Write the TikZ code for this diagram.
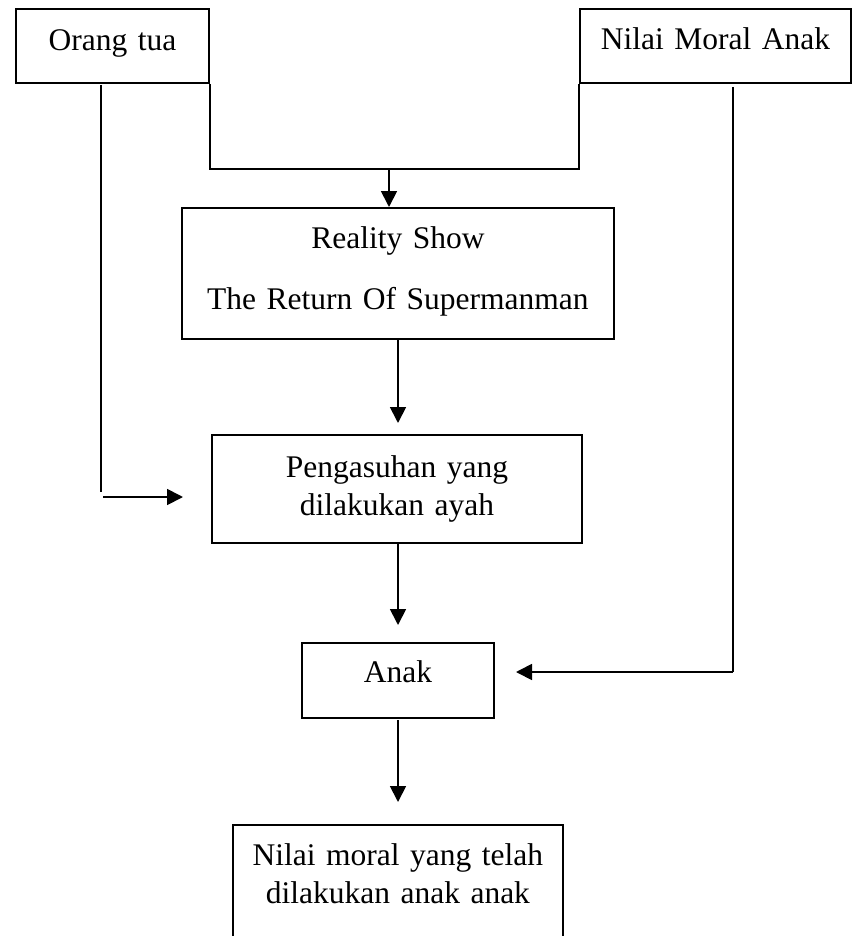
\documentclass[tikz,border=0pt]{standalone}
\usepackage{fontspec}
\setmainfont{Liberation Serif}
\usetikzlibrary{arrows.meta}
\tikzset{
  boxnode/.style={draw, line width=1.8pt, rectangle, inner sep=0pt, anchor=north west,
    align=center, font=\fontsize{31.5}{38}\selectfont},
  conn/.style={line width=1.8pt},
  arr/.style={line width=1.8pt, -{Triangle[length=16pt,width=16pt]}}
}
\begin{document}
\begin{tikzpicture}[x=1pt,y=-1pt]
\useasboundingbox (0,0) rectangle (851,936);

% boxes
\node[boxnode, text width=193pt, text height=42pt, text depth=32pt] (ortu) at (15,8) {Orang tua};
\node[boxnode, text width=271pt, text height=41pt, text depth=33pt] (nilai) at (579,8) {Nilai Moral Anak};
\node[boxnode, text width=432pt, text height=41pt, text depth=90pt] (rs) at (181,207) {Reality Show\\[23pt]The Return Of Supermanman};
\node[boxnode, text width=370pt, text height=43pt, text depth=65pt] (pg) at (211,434) {Pengasuhan yang\\dilakukan ayah};
\node[boxnode, text width=192pt, text height=40pt, text depth=35pt] (anak) at (301,642) {Anak};
\node[boxnode, text width=330pt, text height=41pt, text depth=95pt] (last) at (232,824) {Nilai moral yang telah\\dilakukan anak anak};

% coordinates
\coordinate (j) at (389,169);
\coordinate (ol1) at (101,85);
\coordinate (ol2) at (101,492);
\coordinate (oa1) at (103,497);
\coordinate (oa2) at (183,497);
\coordinate (nr1) at (733,87);
\coordinate (nr2) at (733,672);
\coordinate (nr3) at (516,672);
\coordinate (t1) at (398,423);
\coordinate (t2) at (398,625);
\coordinate (s3) at (398,720);
\coordinate (t3) at (398,802);

% connectors
\draw[conn] (ortu.south east) |- (j) -| (nilai.south west);
\draw[arr] (j) -- (rs.north -| j);
\draw[conn] (ol1) -- (ol2);
\draw[arr] (oa1) -- (oa2);
\draw[conn] (nr1) -- (nr2);
\draw[arr] (nr2) -- (nr3);
\draw[arr] (rs.south -| t1) -- (t1);
\draw[arr] (pg.south -| t2) -- (t2);
\draw[arr] (s3) -- (t3);
\end{tikzpicture}
\end{document}
